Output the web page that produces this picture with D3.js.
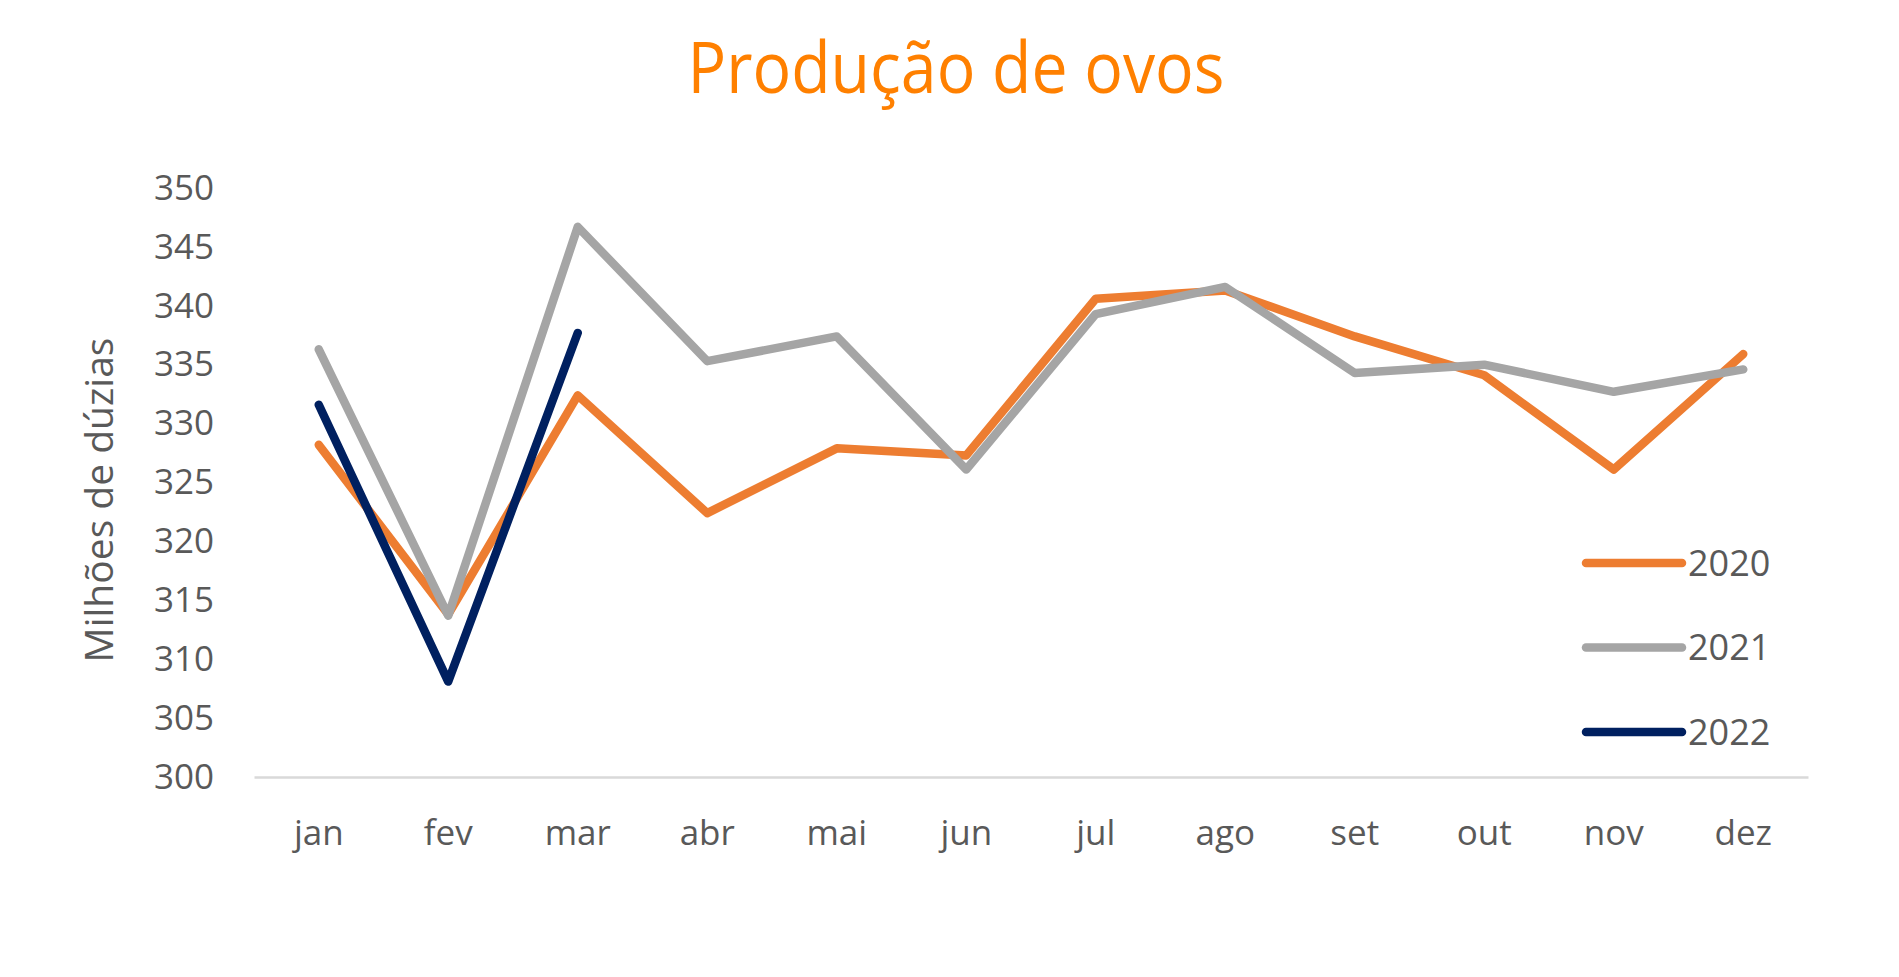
<!DOCTYPE html>
<html>
<head>
<meta charset="utf-8">
<script src="https://cdnjs.cloudflare.com/ajax/libs/d3/7.8.5/d3.min.js"></script>
<style>
  body { margin: 0; background: #fff; }
  text { font-family: "Open Sans", sans-serif; fill: #595959; }
</style>
</head>
<body>
<div id="chart"></div>
<script>
// data
var months = ["jan", "fev", "mar", "abr", "mai", "jun", "jul", "ago", "set", "out", "nov", "dez"];
var yTicks = [300, 305, 310, 315, 320, 325, 330, 335, 340, 345, 350];
var years = ["2020", "2021", "2022"];
var v2020 = [328.2, 313.8, 332.4, 322.4, 327.9, 327.3, 340.6, 341.3, 337.4, 334.1, 326.1, 335.9];
var v2021 = [336.3, 313.7, 346.7, 335.3, 337.4, 326.1, 339.3, 341.6, 334.3, 335.0, 332.7, 334.6];
var v2022 = [331.6, 308.1, 337.7];
var colors = ["#ED7D31", "#A5A5A5", "#002060"];

var W = 1899, H = 977;
var svg = d3.select("#chart").append("svg")
    .attr("width", W)
    .attr("height", H);

// scales
var x = d3.scaleBand()
    .domain(months)
    .range([254, 1808]);
var y = d3.scaleLinear()
    .domain([300, 350])
    .range([777, 188]);
var cx = function (m) { return x(m) + x.bandwidth() / 2; };

// title
var title = svg.append("text")
    .attr("x", 956)
    .attr("y", 93)
    .attr("text-anchor", "middle")
    .style("font-size", "71px")
    .style("fill", "#FF8000")
    .text("Produção de ovos");
var tw = title.node().getComputedTextLength();
if (Math.abs(tw - 537) > 4) title.attr("textLength", 537).attr("lengthAdjust", "spacingAndGlyphs");

// Y axis (labels only)
var yAxis = svg.append("g")
    .attr("transform", "translate(254,0)")
    .call(d3.axisLeft(y).tickValues(yTicks).tickSize(0).tickPadding(40));
yAxis.select(".domain").remove();
yAxis.selectAll("text")
    .style("font-size", "35px")
    .style("font-family", "Open Sans, sans-serif")
    .style("fill", "#595959");

// X axis
var xAxis = svg.append("g")
    .attr("transform", "translate(0,777)")
    .call(d3.axisBottom(x).tickSize(0).tickSizeOuter(0).tickPadding(43));
xAxis.select(".domain")
    .attr("stroke", "#D9D9D9")
    .attr("stroke-width", 2.7);
xAxis.selectAll("text")
    .style("font-size", "35px")
    .style("font-family", "Open Sans, sans-serif")
    .style("fill", "#595959");

// axis title
svg.append("text")
    .attr("transform", "translate(113,500) rotate(-90)")
    .attr("text-anchor", "middle")
    .style("font-size", "39px")
    .text("Milhões de dúzias");

// lines
var line = d3.line()
    .x(function (d, i) { return cx(months[i]); })
    .y(function (d) { return y(d); });

var series = [v2020, v2021, v2022];
svg.append("g")
  .selectAll("path")
  .data(series)
  .enter()
  .append("path")
    .attr("d", line)
    .attr("fill", "none")
    .attr("stroke", function (d, i) { return colors[i]; })
    .attr("stroke-width", 8.5)
    .attr("stroke-linecap", "round")
    .attr("stroke-linejoin", "round");

// legend
var leg = svg.append("g")
  .selectAll("g")
  .data(years)
  .enter()
  .append("g")
    .attr("transform", function (d, i) { return "translate(1586," + (563 + i * 84.5) + ")"; });
leg.append("line")
    .attr("x1", 0)
    .attr("x2", 96)
    .attr("stroke", function (d, i) { return colors[i]; })
    .attr("stroke-width", 8.5)
    .attr("stroke-linecap", "round");
leg.append("text")
    .attr("x", 102)
    .attr("dy", "0.35em")
    .style("font-size", "36px")
    .text(function (d) { return d; });
</script>
</body>
</html>
